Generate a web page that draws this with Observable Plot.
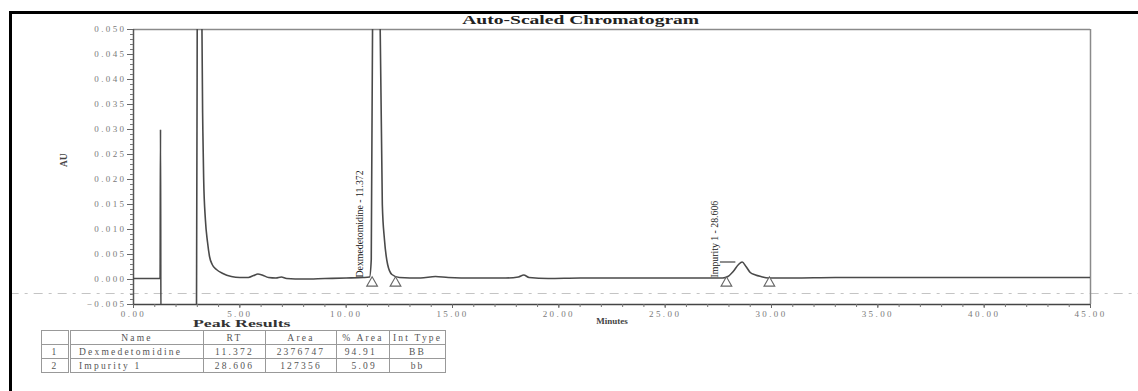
<!DOCTYPE html>
<html>
<head>
<meta charset="utf-8">
<script src="https://cdn.jsdelivr.net/npm/d3@7"></script>
<script src="https://cdn.jsdelivr.net/npm/@observablehq/plot@0.6"></script>
<style>
  body { margin: 0; background: #fff; }
  #wrap { position: relative; width: 1138px; height: 391px; overflow: hidden; background: #fff; }
  #chart { position: absolute; left: 0; top: 0; }
  #frame { position: absolute; left: 9px; top: 11px; width: 1300px; height: 500px;
           border-left: 3px solid #000; border-top: 3px solid #000; pointer-events: none; }
  #title { position: absolute; left: 0; top: 13px; width: 1162px; text-align: center;
           font: bold 11.5px/14px "Liberation Serif", serif; color: #222; }
  #title span, #ptitle span { display: inline-block; transform: scaleX(1.7); }
  #ptitle { position: absolute; left: 0; top: 318px; width: 484px; text-align: center;
            font: bold 10.5px/12px "Liberation Serif", serif; color: #333; }
  #tbl { position: absolute; left: 41px; top: 330px; border-collapse: collapse;
         font-family: "Liberation Serif", serif; font-size: 9.5px; color: #555; letter-spacing: 2.2px; }
  #tbl td { border: 1px solid #999; height: 13px; padding: 0 3px; white-space: nowrap; }
  #tbl td.idx { border-right: 3px double #999; text-align: center; }
  g[aria-label="y-axis tick label"] text, g[aria-label="x-axis tick label"] text { letter-spacing: 2.4px; }
  g[aria-label="axis-title"] text { letter-spacing: 3px; }
</style>
</head>
<body>
<div id="wrap">
  <div id="chart"></div>
  <div id="title"><span>Auto-Scaled Chromatogram</span></div>
  <div id="ptitle"><span>Peak Results</span></div>
  <table id="tbl"></table>
  <div id="frame"></div>
</div>
<script>
// ---- trace (minutes, AU) ----
const time = [
  0.00, 0.50, 1.00, 1.25, 1.27, 1.29,
  2.96, 3.00, 3.10, 3.21, 3.26, 3.30, 3.38, 3.48, 3.58, 3.70, 3.90, 4.20, 4.60,
  5.00, 5.40, 5.65, 5.85, 6.05, 6.35, 6.70, 6.95, 7.20, 8.00, 9.00, 10.00, 10.80,
  11.10, 11.18, 11.24, 11.372, 11.60, 11.70, 11.80, 11.95, 12.15, 12.50,
  13.50, 14.20, 14.80, 16.00, 17.50, 18.10, 18.35, 18.60, 19.50, 21.00, 23.00, 25.00, 26.50,
  27.70, 27.95, 28.20, 28.45, 28.62, 28.80, 29.00, 29.25, 29.50, 29.85,
  31.00, 33.00, 35.00, 37.00, 39.00, 41.00, 43.00, 45.00
];
const absorbance = [
  0.0002, 0.0002, 0.0002, 0.0002, 0.0300, -0.0100,
  -0.0100, 0.0600, 0.4000, 0.0550, 0.0300, 0.0200, 0.0120, 0.0075, 0.0045, 0.0030, 0.0020, 0.0012, 0.0006,
  0.0004, 0.0004, 0.0008, 0.0011, 0.0009, 0.0004, 0.0003, 0.0005, 0.0002, 0.0001, 0.0002, 0.0003, 0.0004,
  0.0005, 0.0040, 0.0500, 0.3200, 0.0500, 0.0150, 0.0080, 0.0030, 0.0010, 0.0004,
  0.0003, 0.0006, 0.0004, 0.0003, 0.0003, 0.0005, 0.0009, 0.0004, 0.0002, 0.0003, 0.0003, 0.0003, 0.0003,
  0.0003, 0.0006, 0.0016, 0.0030, 0.0035, 0.0026, 0.0014, 0.0009, 0.0006, 0.0003,
  0.0003, 0.0004, 0.0004, 0.0004, 0.0004, 0.0004, 0.0004, 0.0004
];

// ---- peaks ----
const peakNames = ["Dexmedetomidine", "Impurity 1"];
const peakRT = [11.372, 28.606];
const peakStart = [11.22, 27.88];
const peakEnd = [12.32, 29.90];
const peakApex = [0.32, 0.0035];
const peakArea = [2376747, 127356];
const peakPctArea = ["94.91", "5.09"];
const peakIntType = ["BB", "bb"];

// ---- axes ----
const yTicks = [-0.005, 0.000, 0.005, 0.010, 0.015, 0.020, 0.025, 0.030, 0.035, 0.040, 0.045, 0.050];
const xTicks = [0, 5, 10, 15, 20, 25, 30, 35, 40, 45];
const yMinor = d3.range(-5, 51).map(d => d / 1000);
const xMinor = d3.range(0, 46);
const yLabel = ["AU"];
const xLabel = ["Minutes"];
const noiseLevel = [-0.0028];

const trace = time.map((t, i) => ({t, v: absorbance[i]}));
const peaks = peakNames.map((name, i) => ({
  name, rt: peakRT[i], start: peakStart[i], end: peakEnd[i], apex: peakApex[i]
}));
const baseMarks = peaks.flatMap(p => [p.start, p.end]);

const chart = Plot.plot({
  width: 1138,
  height: 330,
  marginLeft: 133,
  marginRight: 48,
  marginTop: 29,
  marginBottom: 26,
  x: {domain: [0, 45], label: null},
  y: {domain: [-0.005, 0.050], label: null},
  style: {background: "transparent", fontFamily: "Liberation Serif, serif", fontSize: "9px", overflow: "visible"},
  marks: [
    Plot.ruleY(noiseLevel, {y: d => d, x1: -5.8, x2: 47.4, stroke: "#c4c4c4", strokeWidth: 1, strokeDasharray: "9 6 3 6"}),
    Plot.ruleY([0.050], {stroke: "#8a8a8a", strokeWidth: 1.5}),
    Plot.ruleX([45], {stroke: "#8a8a8a", strokeWidth: 1.5}),
    Plot.ruleX([0], {stroke: "#555", strokeWidth: 1.5}),
    Plot.ruleY([-0.005], {stroke: "#444", strokeWidth: 1.6}),
    Plot.axisY(yMinor, {tickSize: 3, text: null, label: null, stroke: "#777"}),
    Plot.axisX(xMinor, {tickSize: 3, text: null, label: null, stroke: "#777"}),
    Plot.axisY(yTicks, {tickSize: 6, tickPadding: 1, tickFormat: d3.format(".3f"), label: null, color: "#7a7a7a", stroke: "#666"}),
    Plot.axisX(xTicks, {tickSize: 4, tickPadding: 2, tickFormat: d3.format(".2f"), label: null, color: "#7a7a7a", stroke: "#666"}),
    Plot.line(trace, {x: "t", y: "v", stroke: "#4a4a4a", strokeWidth: 1.6, curve: "monotone-x", clip: true}),
    Plot.ruleY(peaks.filter(p => p.apex < 0.05), {y: "apex", x1: "start", x2: "rt", dx: -6, stroke: "#444", strokeWidth: 1.2}),
    Plot.dot(baseMarks, {x: d => d, y: 0, dy: 3.5, symbol: "triangle", r: 4, fill: "white", stroke: "#666", strokeWidth: 1.1}),
    Plot.text(peaks, {x: "start", y: 0, text: d => `${d.name} - ${d.rt.toFixed(3)}`, rotate: -90, textAnchor: "start",
      dx: -12, dy: -2, fontSize: 9.8, fill: "#222", fontFamily: "Liberation Serif, serif"}),
    Plot.text(yLabel, {text: d => d, frameAnchor: "left", dx: -70, rotate: -90, fontSize: 9.5, fill: "#444", fontWeight: "bold", ariaLabel: "axis-title"}),
    Plot.text(xLabel, {text: d => d, frameAnchor: "bottom", dy: 19, fontSize: 9, fill: "#444", fontWeight: "bold", ariaLabel: "axis-title"})
  ]
});
document.getElementById("chart").appendChild(chart);

// ---- peak results table ----
const widths = [27, 133, 62, 71, 53, 41];
const header = ["", "Name", "RT", "Area", "% Area", "Int Type"];
const rows = peakNames.map((n, i) => [String(i + 1), n, peakRT[i].toFixed(3), String(peakArea[i]), peakPctArea[i], peakIntType[i]]);
const aligns = ["center", "left", "center", "center", "right", "center"];
const tbl = d3.select("#tbl");
const hr = tbl.append("tr");
header.forEach((h, j) => hr.append("td").attr("class", j === 0 ? "idx" : null)
  .style("width", (widths[j] - 7) + "px").style("text-align", "center").text(h));
rows.forEach(r => {
  const tr = tbl.append("tr");
  r.forEach((c, j) => tr.append("td").attr("class", j === 0 ? "idx" : null)
    .style("text-align", aligns[j]).style("padding-left", j === 1 ? "8px" : null)
    .style("padding-right", j === 4 ? "12px" : null).text(c));
});
</script>
</body>
</html>
